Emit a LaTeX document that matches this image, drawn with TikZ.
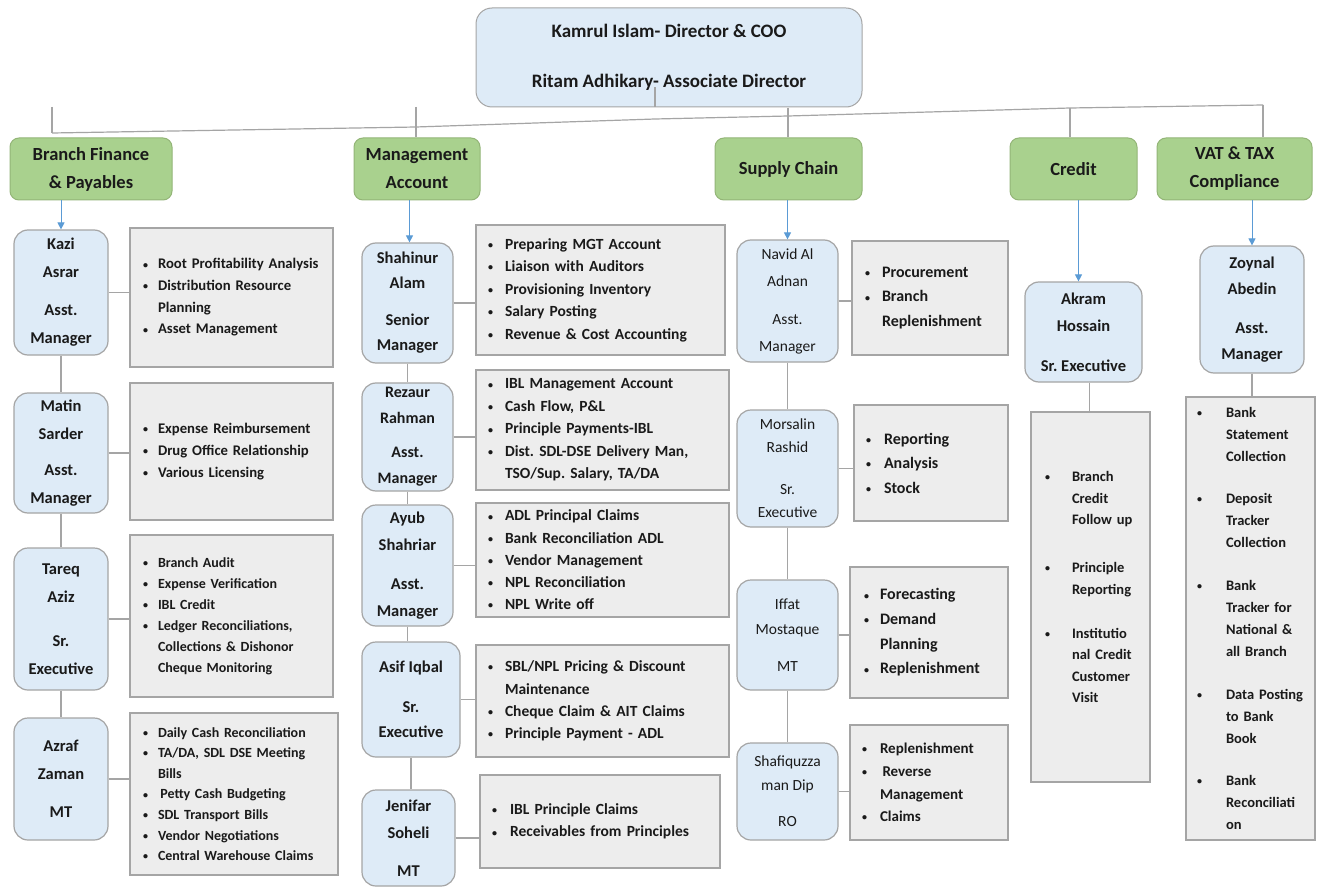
\documentclass[tikz,border=0pt]{standalone}
\usepackage{fontspec}
\setmainfont{Carlito}
\usetikzlibrary{arrows.meta}
\frenchspacing
\definecolor{pblue}{HTML}{DEEBF7}
\definecolor{gfill}{HTML}{A9D18E}
\definecolor{gdraw}{HTML}{93B577}
\definecolor{tfill}{HTML}{EDEDED}
\definecolor{lgray}{HTML}{A5A5A5}
\definecolor{abl}{HTML}{5B9BD5}
\definecolor{ink}{HTML}{1A1A1A}
\newcommand\smb{\raisebox{0.8pt}{\fontsize{10}{10}\selectfont\textbullet}}
\newcommand\bu[2]{\mbox{\makebox[#1pt][l]{\smb}#2}}
\newcommand\ct[2]{\mbox{\hspace*{#1pt}#2}}
\newcommand\pbox[7][]{\node[person,minimum width={#5-#3},minimum height={#6-#4},#1] (#2) at ({(#3+#5)/2},{(#4+#6)/2}) {#7};}
\newcommand\tbox[9]{\pgfmathsetmacro\tbtw{#4-#2-2*#6}%
  \node[task,minimum width={#4-#2},minimum height={#5-#3},inner xsep=#6pt,text width=\tbtw pt,font=\fontsize{#7}{#8}\selectfont\bfseries] (#1) at ({(#2+#4)/2},{(#3+#5)/2}) {#9};}
\begin{document}
\begin{tikzpicture}[x=1pt,y=-1pt,
  every node/.style={text=ink},
  topbox/.style={draw=lgray,fill=pblue,rounded corners=16pt,line width=1pt,align=center,inner sep=0pt,font=\fontsize{19}{50}\selectfont\bfseries},
  dept/.style={draw=gdraw,fill=gfill,rounded corners=9pt,line width=1pt,align=center,inner sep=0pt,font=\fontsize{18.5}{28}\selectfont\bfseries},
  person/.style={draw=lgray,fill=pblue,rounded corners=14pt,line width=1.2pt,align=center,inner sep=0pt,font=\fontsize{16.5}{28}\selectfont\bfseries},
  task/.style={draw=lgray,fill=tfill,line width=1.5pt,align=left,inner ysep=0pt},
  conn/.style={draw=lgray,line width=1.2pt},
  arr/.style={draw=abl,line width=1pt,-{Triangle[length=7pt,width=7pt]}}]
\useasboundingbox (0,0) rectangle (1318,888);
\fill[white] (0,0) rectangle (1318,888);

% top
\node[topbox,minimum width=386,minimum height=99] (top) at (669,57.5)
  {Kamrul Islam- Director \& COO\\Ritam Adhikary- Associate Director};

% departments
\node[dept,minimum width=162,minimum height=62] (bf) at (91,169) {Branch Finance\\\& Payables};
\node[dept,minimum width=126,minimum height=62] (ma) at (417,169) {Management\\Account};
\node[dept,minimum width=147,minimum height=62] (sc) at (788.5,169) {Supply Chain};
\node[dept,minimum width=127,minimum height=62] (cr) at (1073.5,169) {Credit};
\node[dept,minimum width=155,minimum height=62] (vt) at (1234.5,169) {VAT \& TAX\\Compliance};

% bus
\coordinate (k1) at (52,133);
\coordinate (k2) at (416,127);
\coordinate (k3) at (655,119);
\coordinate (k4) at (788,116);
\coordinate (k5) at (1070,108);
\coordinate (k6) at (1263,105);
\draw[conn] (k1) -- (k2) -- (k3) -- (k4) -- (k5) -- (k6);
\coordinate (v1) at (52,107);
\coordinate (v2) at (416,107);
\coordinate (v4) at (788,108);
\coordinate (v5) at (1070,108);
\draw[conn] (v1) -- (k1);
\draw[conn] (v2) -- (v2 |- ma.north);
\draw[conn] (v4) -- (v4 |- sc.north);
\draw[conn] (v5) -- (v5 |- cr.north);
\draw[conn] (k6) -- (k6 |- vt.north);
\draw[conn] ([xshift=-14pt,yshift=20pt]top.south) -- ([xshift=-14pt]top.south);

% column 1
\pbox{kazi}{14}{230}{108}{355}{Kazi\\Asrar\\[10pt]Asst.\\Manager}
\pbox{matin}{14}{393}{108}{513}{Matin\\Sarder\\[8pt]Asst.\\Manager}
\pbox{tareq}{14}{548}{108}{690}{Tareq\\Aziz\\[16pt]Sr.\\Executive}
\pbox{azraf}{14}{718}{108}{840}{Azraf\\Zaman\\[10pt]MT}

\tbox{t11}{130}{228}{333}{367}{13}{14.7}{21.7}{\bu{15}{Root Profitability Analysis}\\\bu{15}{Distribution Resource}\\\ct{15}{Planning}\\\bu{15}{Asset Management}}
\tbox{t12}{130}{383}{333}{520}{13}{14.7}{21.7}{\bu{15}{Expense Reimbursement}\\\bu{15}{Drug Office Relationship}\\\bu{15}{Various Licensing}}
\tbox{t13}{130}{535}{333}{697}{13}{14}{21}{\bu{15}{Branch Audit}\\\bu{15}{Expense Verification}\\\bu{15}{IBL Credit}\\\bu{15}{Ledger Reconciliations,}\\\ct{15}{Collections \& Dishonor}\\\ct{15}{Cheque Monitoring}}
\tbox{t14}{130}{713}{338}{875}{13}{14}{20.6}{\bu{15}{Daily Cash Reconciliation}\\\bu{15}{TA/DA, SDL DSE Meeting}\\\ct{15}{Bills}\\\bu{15}{\,Petty Cash Budgeting}\\\bu{15}{SDL Transport Bills}\\\bu{15}{Vendor Negotiations}\\\bu{15}{Central Warehouse Claims}}

% column 2
\pbox[font=\fontsize{16.5}{25}\selectfont\bfseries]{shah}{362}{243}{453}{363}{Shahinur\\Alam\\[12pt]Senior\\Manager}
\pbox[font=\fontsize{16}{26}\selectfont\bfseries]{rez}{362}{383}{453}{491}{Rezaur\\Rahman\\[8pt]Asst.\\Manager}
\pbox[font=\fontsize{16.5}{27.5}\selectfont\bfseries]{ayub}{362}{505}{453}{626}{Ayub\\Shahriar\\[11pt]Asst.\\Manager}
\pbox[font=\fontsize{16.5}{25}\selectfont\bfseries]{asif}{362}{642}{460}{757}{Asif Iqbal\\[15pt]Sr.\\Executive}
\pbox[font=\fontsize{16.5}{27}\selectfont\bfseries]{jen}{362}{790}{455}{886}{Jenifar\\Soheli\\[11pt]MT}

\tbox{t21}{476}{225}{725}{355}{12}{15.5}{22.5}{\bu{17}{Preparing MGT Account}\\\bu{17}{Liaison with Auditors}\\\bu{17}{Provisioning Inventory}\\\bu{17}{Salary Posting}\\\bu{17}{Revenue \& Cost Accounting}}
\tbox{t22}{476}{370}{729}{490}{12}{15.5}{22.5}{\bu{17}{IBL Management Account}\\\bu{17}{Cash Flow, P\&L}\\\bu{17}{Principle Payments-IBL}\\\bu{17}{Dist. SDL-DSE Delivery Man,}\\\ct{17}{TSO/Sup. Salary, TA/DA}}
\tbox{t23}{476}{503}{729}{617}{12}{15.5}{22.2}{\bu{17}{ADL Principal Claims}\\\bu{17}{Bank Reconciliation ADL}\\\bu{17}{Vendor Management}\\\bu{17}{NPL Reconciliation}\\\bu{17}{NPL Write off}}
\tbox{t24}{476}{645}{729}{757}{12}{15.5}{22.3}{\bu{17}{SBL/NPL Pricing \& Discount}\\\ct{17}{Maintenance}\\\bu{17}{Cheque Claim \& AIT Claims}\\\bu{17}{Principle Payment - ADL}}
\tbox{t25}{480}{775}{720}{868}{12}{15.5}{22.3}{\bu{18}{IBL Principle Claims}\\\bu{18}{Receivables from Principles}}

% column 3
\pbox[font=\fontsize{15.5}{27}\selectfont]{navid}{737}{240}{838}{362}{Navid Al\\Adnan\\[11pt]Asst.\\Manager}
\pbox[font=\fontsize{15.5}{23}\selectfont]{mors}{737}{410}{838}{527}{Morsalin\\Rashid\\[19pt]Sr.\\Executive}
\pbox[font=\fontsize{15.5}{25}\selectfont]{iffat}{737}{580}{838}{690}{Iffat\\Mostaque\\[12pt]MT}
\pbox[font=\fontsize{15.5}{24}\selectfont]{shaf}{737}{743}{838}{840}{Shafiquzza\\man Dip\\[12pt]RO}

\tbox{t31}{852}{241}{1008}{355}{13}{16}{24.5}{\bu{17}{Procurement}\\\bu{17}{Branch}\\\ct{17}{Replenishment}}
\tbox{t32}{854}{405}{1008}{521}{12}{16}{24.5}{\bu{18}{Reporting}\\\bu{18}{Analysis}\\\bu{18}{Stock}}
\tbox{t33}{850}{567}{1008}{698}{14}{16}{24.7}{\bu{16}{Forecasting}\\\bu{16}{Demand}\\\ct{16}{Planning}\\\bu{16}{Replenishment}}
\tbox{t34}{850}{725}{1008}{840}{12}{15}{22.7}{\bu{18}{Replenishment}\\\bu{18}{\,Reverse}\\\ct{18}{Management}\\\bu{18}{Claims}}

% column 4
\pbox[font=\fontsize{16.5}{27}\selectfont\bfseries]{akram}{1025}{282}{1142}{382}{Akram\\Hossain\\[13pt]Sr. Executive}
\tbox{t41}{1031}{412}{1150}{782}{14}{14.5}{21.5}{\bu{27}{Branch}\\\ct{27}{Credit}\\\ct{27}{Follow up}\\[26.5pt]\bu{27}{Principle}\\\ct{27}{Reporting}\\[22.5pt]\bu{27}{Institutio}\\\ct{27}{nal Credit}\\\ct{27}{Customer}\\\ct{27}{Visit}\\[-1.5pt]\mbox{}}

% column 5
\pbox[font=\fontsize{16.5}{26}\selectfont\bfseries]{zoy}{1200}{246}{1304}{373}{Zoynal\\Abedin\\[13pt]Asst.\\Manager}
\tbox{t51}{1186}{397}{1315}{840}{11}{14.5}{22}{\bu{29}{Bank}\\\ct{29}{Statement}\\\ct{29}{Collection}\\[20pt]\bu{29}{Deposit}\\\ct{29}{Tracker}\\\ct{29}{Collection}\\[21pt]\bu{29}{Bank}\\\ct{29}{Tracker for}\\\ct{29}{National \&}\\\ct{29}{all Branch}\\[21pt]\bu{29}{Data Posting}\\\ct{29}{to Bank}\\\ct{29}{Book}\\[20pt]\bu{29}{Bank}\\\ct{29}{Reconciliati}\\\ct{29}{on}}

% arrows from departments
\draw[arr] (kazi.north |- bf.south) -- (kazi.north);
\draw[arr] ([xshift=2pt]shah.north |- ma.south) -- ([xshift=2pt]shah.north);
\draw[arr] (navid.north |- sc.south) -- (navid.north);
\draw[arr] ([xshift=-5pt]akram.north |- cr.south) -- ([xshift=-5pt]akram.north);
\draw[arr] (zoy.north |- vt.south) -- (zoy.north);

% vertical person connectors
\draw[conn] (kazi.south) -- (kazi.south |- matin.north);
\draw[conn] (matin.south) -- (matin.south |- tareq.north);
\draw[conn] (tareq.south) -- (tareq.south |- azraf.north);
\draw[conn] (shah.south) -- (shah.south |- rez.north);
\draw[conn] (rez.south) -- (rez.south |- ayub.north);
\draw[conn] (ayub.south) -- (ayub.south |- asif.north);
\draw[conn] (asif.south) -- (asif.south |- jen.north);
\draw[conn] (navid.south) -- (navid.south |- mors.north);
\draw[conn] (mors.south) -- (mors.south |- iffat.north);
\draw[conn] (iffat.south) -- (iffat.south |- shaf.north);
\draw[conn] ([xshift=6pt]akram.south) -- ([xshift=6pt]akram.south |- t41.north);
\draw[conn] (zoy.south) -- (zoy.south |- t51.north);

% person to task connectors
\foreach \p/\t in {kazi/t11,matin/t12,tareq/t13,azraf/t14,shah/t21,rez/t22,ayub/t23,asif/t24,jen/t25,navid/t31,mors/t32,iffat/t33,shaf/t34}
  \draw[conn] (\p.east) -- (\p.east -| \t.west);
\end{tikzpicture}
\end{document}
